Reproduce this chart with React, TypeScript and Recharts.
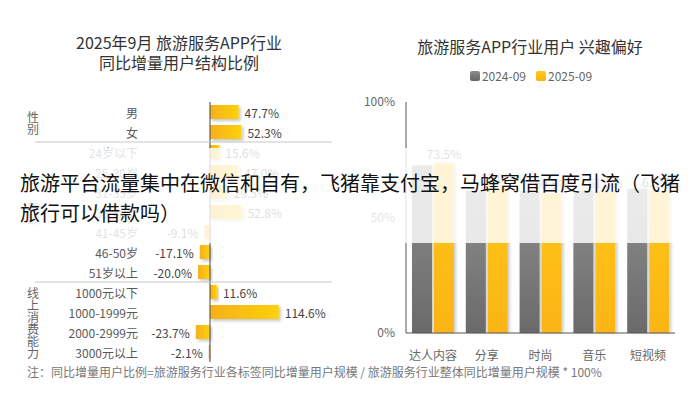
import React from 'react'
import {
  BarChart,
  Bar,
  XAxis,
  YAxis,
  ReferenceLine,
  LabelList,
} from 'recharts'

// left chart: 2025-09 YoY incremental user structure
const leftCategories = [
  '男', '女',
  '24岁以下', '25-30岁', '31-35岁', '36-40岁', '41-45岁', '46-50岁', '51岁以上',
  '1000元以下', '1000-1999元', '2000-2999元', '3000元以上',
]
const leftValues = [47.7, 52.3, 15.6, 47.0, 29.5, 52.8, -9.1, -17.1, -20.0, 11.6, 114.6, -23.7, -2.1]
const groupNames = ['性别', '年龄', '线上消费能力']
const groupSizes = [2, 7, 4]

// right chart: interest preferences
const interestCategories = ['达人内容', '分享', '时尚', '音乐', '短视频']
const series2024 = [72.5, 61.5, 61.5, 61.5, 62.5]
const series2025 = [73.5, 63.0, 60.5, 61.0, 61.5]
const seriesNames = ['2024-09', '2025-09']
const yTicks = [0, 50, 100]

const FONT = '"Noto Sans CJK SC", "Noto Sans", sans-serif'
const ROW_H = 20

const leftData = leftCategories.map((name, i) => ({ name, value: leftValues[i] }))
const rightData = interestCategories.map((name, i) => ({
  name,
  a: series2024[i],
  b: series2025[i],
}))

// index of first row for each group
const groupStarts = groupSizes.map((_, g) =>
  groupSizes.slice(0, g).reduce((s, n) => s + n, 0)
)

function CatTick(props: any) {
  const { x, y, payload } = props
  const idx = leftCategories.indexOf(payload.value)
  const g = groupStarts.indexOf(idx)
  return (
    <g>
      <text
        x={x}
        y={y}
        textAnchor="end"
        dominantBaseline="central"
        fontSize={12}
        fill="#5a5a5a"
        fontFamily={FONT}
      >
        {payload.value}
      </text>
      {g > 0 && (
        <line x1={35} x2={332} y1={y - ROW_H / 2} y2={y - ROW_H / 2} stroke="#c8c8c8" />
      )}
      {g >= 0 &&
        groupNames[g].split('').map((ch, i, arr) => (
          <text
            key={i}
            x={33}
            y={y + ((groupSizes[g] - 1) / 2) * ROW_H + (i - (arr.length - 1) / 2) * 12}
            textAnchor="middle"
            dominantBaseline="central"
            fontSize={12}
            fill="#666"
            fontFamily={FONT}
          >
            {ch}
          </text>
        ))}
    </g>
  )
}

function ValueLabel(props: any) {
  const { x, y, width, height, value } = props
  const left = Math.min(x, x + width)
  const right = Math.max(x, x + width)
  const pos = value >= 0
  return (
    <text
      x={pos ? right + 6 : left - 6}
      y={y + height / 2}
      textAnchor={pos ? 'start' : 'end'}
      dominantBaseline="central"
      fontSize={12}
      fill="#444"
      fontFamily={FONT}
    >
      {value.toFixed(1)}%
    </text>
  )
}

export default function App() {
  return (
    <div
      style={{
        position: 'absolute',
        left: 0,
        top: 0,
        width: 700,
        height: 397,
        background: '#fff',
        fontFamily: FONT,
        overflow: 'hidden',
      }}
    >
      {/* titles */}
      <div
        style={{
          position: 'absolute', left: 0, top: 32, width: 358, textAlign: 'center',
          fontSize: 16, lineHeight: '20px', color: '#333',
        }}
      >
        2025年9月 旅游服务APP行业
        <br />
        同比增量用户结构比例
      </div>
      <div
        style={{
          position: 'absolute', left: 350, top: 36, width: 360, textAlign: 'center',
          fontSize: 16, lineHeight: '20px', color: '#333',
        }}
      >
        旅游服务APP行业用户 兴趣偏好
      </div>

      {/* legend */}
      <div
        style={{
          position: 'absolute', left: 350, top: 68, width: 362, display: 'flex',
          justifyContent: 'center', gap: 10, fontSize: 12, lineHeight: '16px', color: '#666',
        }}
      >
        {seriesNames.map((n, i) => (
          <div key={n} style={{ display: 'flex', alignItems: 'center', gap: 2 }}>
            <span
              style={{
                display: 'inline-block', width: 10, height: 10, borderRadius: 2,
                background: i === 0
                  ? 'linear-gradient(#8c8c8c, #666)'
                  : 'linear-gradient(#ffc81c, #f8b30f)',
              }}
            />
            {n}
          </div>
        ))}
      </div>

      {/* left chart */}
      <div style={{ position: 'absolute', left: 0, top: 0 }}>
        <BarChart
          layout="vertical"
          width={350}
          height={397}
          data={leftData}
          margin={{ top: 102, right: 56, bottom: 35, left: 0 }}
          barSize={14}
        >
          <defs>
            <linearGradient id="gOrange" x1="0" y1="0" x2="1" y2="0">
              <stop offset="0%" stopColor="#f6b01c" />
              <stop offset="100%" stopColor="#ffd108" />
            </linearGradient>
            <filter id="shadowL" x="-20%" y="-30%" width="140%" height="180%">
              <feDropShadow dx="2" dy="2" stdDeviation="1.5" floodColor="#000" floodOpacity="0.22" />
            </filter>
          </defs>
          <XAxis type="number" domain={[-60, 140]} hide />
          <YAxis
            type="category"
            dataKey="name"
            width={174}
            axisLine={false}
            tickLine={false}
            tickSize={0}
            tickMargin={36}
            interval={0}
            tick={(p: any) => <CatTick {...p} />}
          />
          <Bar dataKey="value" fill="url(#gOrange)" filter="url(#shadowL)" isAnimationActive={false}>
            <LabelList dataKey="value" content={(p: any) => <ValueLabel {...p} />} />
          </Bar>
          <ReferenceLine x={0} stroke="#444" strokeWidth={1} />
        </BarChart>
      </div>

      {/* right chart */}
      <div style={{ position: 'absolute', left: 350, top: 0 }}>
        <BarChart
          width={350}
          height={397}
          data={rightData}
          margin={{ top: 102, right: 25, bottom: 34, left: 0 }}
          barSize={20}
          barGap={2}
        >
          <defs>
            <linearGradient id="gGray" x1="0" y1="0" x2="0" y2="1">
              <stop offset="0%" stopColor="#8e8e8e" />
              <stop offset="100%" stopColor="#6a6a6a" />
            </linearGradient>
            <linearGradient id="gYellow" x1="0" y1="0" x2="0" y2="1">
              <stop offset="0%" stopColor="#ffc61a" />
              <stop offset="100%" stopColor="#fbb516" />
            </linearGradient>
            <filter id="shadowR" x="-30%" y="-10%" width="160%" height="120%">
              <feDropShadow dx="2" dy="0" stdDeviation="1.5" floodColor="#000" floodOpacity="0.2" />
            </filter>
          </defs>
          <XAxis
            dataKey="name"
            height={30}
            tickLine={false}
            axisLine={{ stroke: '#555' }}
            tick={{ fontSize: 12, fill: '#666', fontFamily: FONT }}
            tickMargin={12}
            interval={0}
          />
          <YAxis
            domain={[0, 100]}
            ticks={yTicks}
            width={56}
            tickLine={false}
            axisLine={{ stroke: '#555' }}
            tick={{ fontSize: 12, fill: '#666', fontFamily: FONT }}
            tickSize={0}
            tickMargin={11}
            tickFormatter={(v: number) => `${v}%`}
          />
          <Bar dataKey="a" name={seriesNames[0]} fill="url(#gGray)" filter="url(#shadowR)" isAnimationActive={false} />
          <Bar dataKey="b" name={seriesNames[1]} fill="url(#gYellow)" filter="url(#shadowR)" isAnimationActive={false}>
            <LabelList
              dataKey="b"
              position="top"
              offset={4}
              fontSize={12}
              fill="#555"
              fontFamily={FONT}
              formatter={(v: any) => `${Number(v).toFixed(1)}%`}
            />
          </Bar>
        </BarChart>
      </div>

      {/* footnote */}
      <div
        style={{
          position: 'absolute', left: 27, top: 364, fontSize: 12, lineHeight: '16px',
          color: '#777', whiteSpace: 'nowrap',
        }}
      >
        注：同比增量用户比例=旅游服务行业各标签同比增量用户规模 / 旅游服务行业整体同比增量用户规模 * 100%
      </div>

      {/* article headline band laid over the chart */}
      <div
        style={{
          position: 'absolute', left: 0, top: 148, width: 700, height: 95,
          background: 'rgba(255,255,255,0.82)',
        }}
      />
      <div
        style={{
          position: 'absolute', left: 20, top: 168, fontSize: 20, lineHeight: '30px',
          color: '#111', whiteSpace: 'nowrap',
        }}
      >
        <div>旅游平台流量集中在微信和自有，飞猪靠支付宝，马蜂窝借百度引流（飞猪</div>
        <div>旅行可以借款吗）</div>
      </div>
    </div>
  )
}
